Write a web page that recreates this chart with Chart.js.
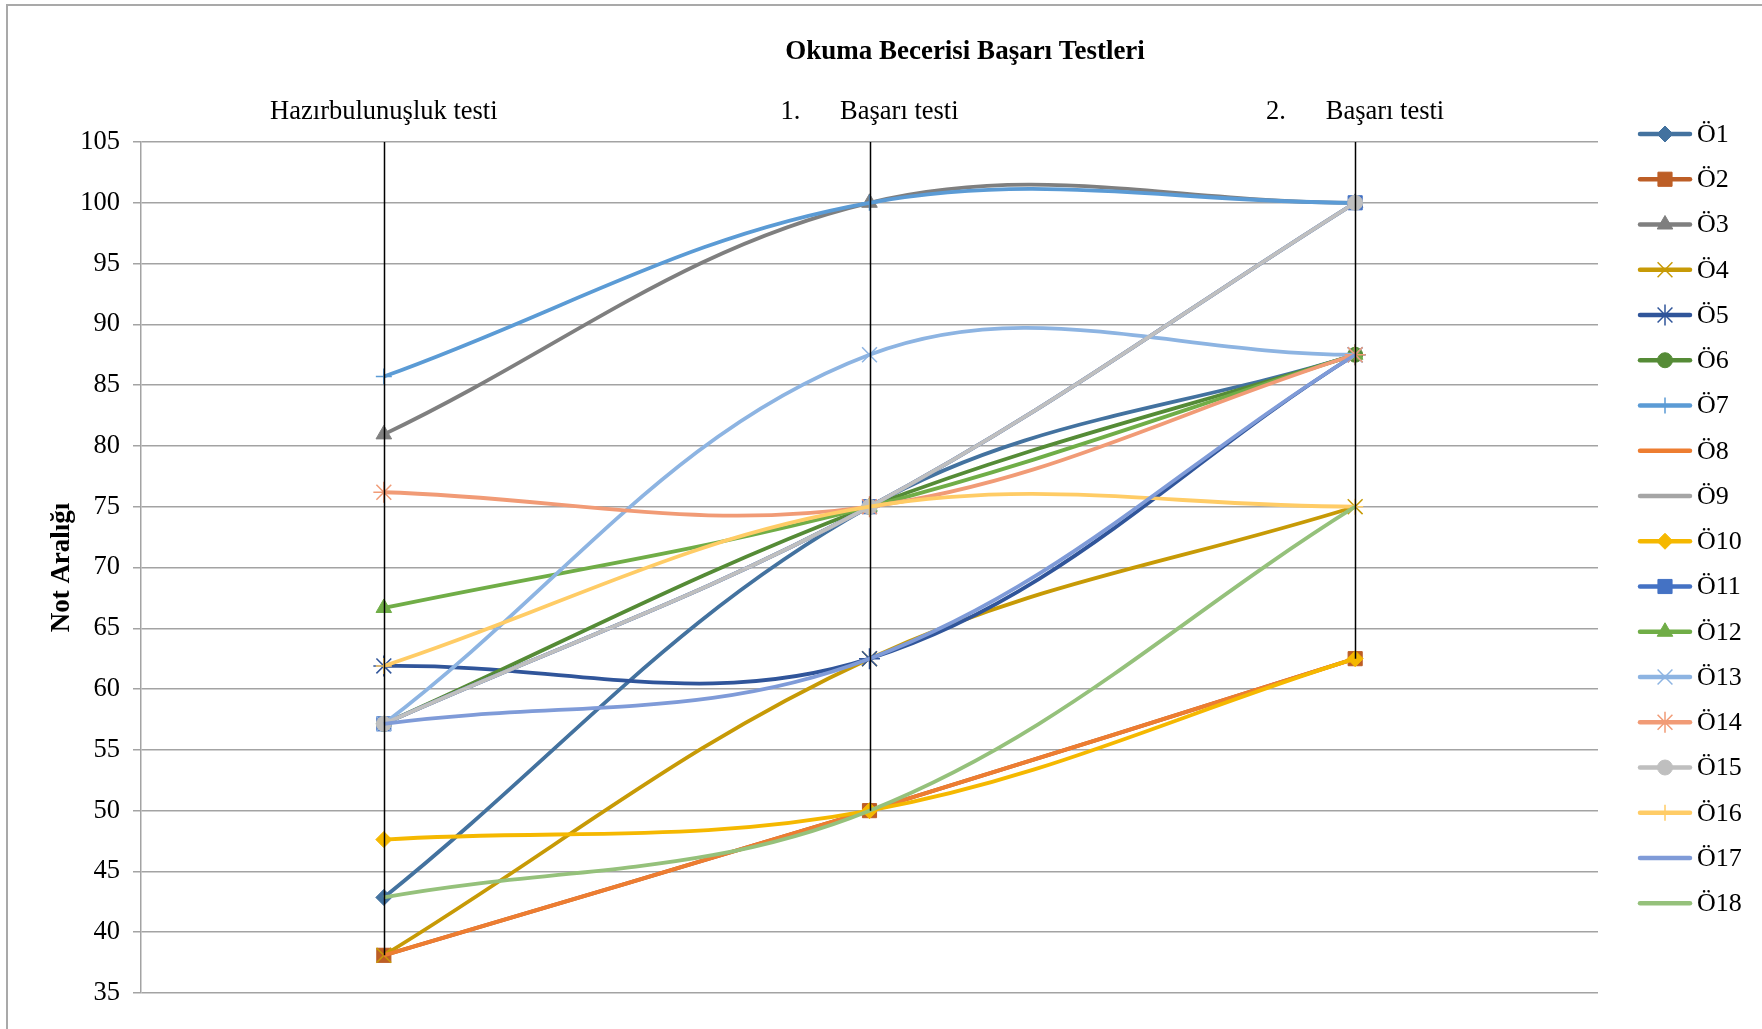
<!DOCTYPE html>
<html lang="tr">
<head>
<meta charset="utf-8">
<title>Okuma Becerisi Başarı Testleri</title>
<script src="https://cdn.jsdelivr.net/npm/chart.js@4.4.1/dist/chart.umd.min.js"></script>
<style>
    html, body { margin: 0; padding: 0; background: #fff; }
    #wrap { position: relative; width: 1762px; height: 1029px; overflow: hidden; }
    #frame {
        position: absolute; left: 6px; top: 4px; width: 1800px; height: 1100px;
        border-left: 2px solid #a9a9a9; border-top: 2px solid #a9a9a9;
    }
    #chart { position: absolute; left: 0; top: 0; }
</style>
</head>
<body>
<div id="wrap">
    <div id="frame"></div>
    <canvas id="chart" width="1762" height="1029"></canvas>
</div>
<script>
// Test names (drawn along the top axis)
const categories = [
    'Hazırbulunuşluk testi',
    '1.\u00A0\u00A0\u00A0\u00A0\u00A0\u00A0Başarı testi',
    '2.\u00A0\u00A0\u00A0\u00A0\u00A0\u00A0Başarı testi'
];

const students = ['Ö1', 'Ö2', 'Ö3', 'Ö4', 'Ö5', 'Ö6', 'Ö7', 'Ö8', 'Ö9',
                  'Ö10', 'Ö11', 'Ö12', 'Ö13', 'Ö14', 'Ö15', 'Ö16', 'Ö17', 'Ö18'];

// Scores per student: [readiness, test 1, test 2]
const o1  = [42.86, 75, 87.5];
const o2  = [38.1, 50, 62.5];
const o3  = [80.95, 100, 100];
const o4  = [38.1, 62.5, 75];
const o5  = [61.9, 62.5, 87.5];
const o6  = [57.14, 75, 87.5];
const o7  = [85.71, 100, 100];
const o8  = [38.1, 50, 62.5];
const o9  = [57.14, 75, 100];
const o10 = [47.62, 50, 62.5];
const o11 = [57.14, 75, 100];
const o12 = [66.67, 75, 87.5];
const o13 = [57.14, 87.5, 87.5];
const o14 = [76.19, 75, 87.5];
const o15 = [57.14, 75, 100];
const o16 = [61.9, 75, 75];
const o17 = [57.14, 62.5, 87.5];
const o18 = [42.86, 50, 75];
const scores = [o1, o2, o3, o4, o5, o6, o7, o8, o9, o10, o11, o12, o13, o14, o15, o16, o17, o18];

const Y_MIN = 35;
const Y_MAX = 105;
const Y_STEP = 5;

// Series colours and markers
const colors = ['#43729F', '#BD5E26', '#7F7F7F', '#C79A06', '#30559A', '#558B36',
                '#5B9BD5', '#ED7D31', '#A5A5A5', '#F5B800', '#4472C4', '#70AD47',
                '#8DB4E2', '#F19B76', '#BFBFBF', '#FFCC66', '#7F9BD8', '#95C17B'];
const markers = ['rectRot', 'rect', 'triangle', 'crossRot', 'star', 'circle', 'cross', null, null,
                 'rectRot', 'rect', 'triangle', 'crossRot', 'star', 'circle', 'cross', null, null];

const SERIF = '"Liberation Serif", "Times New Roman", serif';

function markerRadius(style) {
    switch (style) {
        case 'rect': return 10;
        case 'rectRot': return 8;
        case 'triangle': return 9;
        case 'circle': return 7.5;
        case 'crossRot': return 10.5;
        case 'star': return 10.5;
        case 'cross': return 8;
        default: return 0;
    }
}

function isStroked(style) {
    return style === 'cross' || style === 'crossRot' || style === 'star';
}

const datasets = students.map((name, i) => ({
    label: name,
    data: scores[i],
    borderColor: colors[i],
    borderWidth: 3.8,
    tension: 0.37,
    fill: false,
    pointStyle: markers[i] || 'circle',
    pointRadius: markerRadius(markers[i]),
    pointBackgroundColor: colors[i],
    pointBorderColor: colors[i],
    pointBorderWidth: isStroked(markers[i]) ? 1.5 : 1,
    order: students.length - i
}));

// Chart title
const titlePlugin = {
    id: 'topTitle',
    afterDraw(chart) {
        const ctx = chart.ctx;
        ctx.save();
        ctx.font = 'bold 27px ' + SERIF;
        ctx.fillStyle = '#000';
        ctx.textAlign = 'center';
        ctx.textBaseline = 'middle';
        ctx.fillText('Okuma Becerisi Başarı Testleri', 965, 52);
        ctx.restore();
    }
};

// Drop lines from the lowest score of each test up to the top axis
const dropLinePlugin = {
    id: 'dropLines',
    afterDatasetsDraw(chart) {
        const { ctx, scales: { x, y } } = chart;
        ctx.save();
        ctx.strokeStyle = '#000';
        ctx.lineWidth = 1.5;
        categories.forEach((c, i) => {
            const low = Math.min(...scores.map(s => s[i]));
            const px = Math.round(x.getPixelForValue(i)) + 0.5;
            ctx.beginPath();
            ctx.moveTo(px, y.getPixelForValue(low));
            ctx.lineTo(px, y.getPixelForValue(Y_MAX));
            ctx.stroke();
        });
        ctx.restore();
    }
};

// Legend on the right: short line with the series marker in the middle
const LEGEND_X = 1640;
const LEGEND_TOP = 134;
const LEGEND_STEP = 45.25;

const legendPlugin = {
    id: 'sideLegend',
    afterDraw(chart) {
        const ctx = chart.ctx;
        ctx.save();
        chart.data.datasets.forEach((ds, i) => {
            const y = LEGEND_TOP + i * LEGEND_STEP;
            ctx.strokeStyle = ds.borderColor;
            ctx.lineWidth = 4.5;
            ctx.lineCap = 'round';
            ctx.beginPath();
            ctx.moveTo(LEGEND_X, y);
            ctx.lineTo(LEGEND_X + 50, y);
            ctx.stroke();
            if (ds.pointRadius > 0) {
                ctx.fillStyle = ds.pointBackgroundColor;
                ctx.strokeStyle = ds.pointBorderColor;
                ctx.lineWidth = ds.pointBorderWidth;
                ctx.lineCap = 'butt';
                Chart.helpers.drawPoint(ctx, {
                    pointStyle: ds.pointStyle,
                    radius: ds.pointRadius,
                    borderWidth: ds.pointBorderWidth,
                    rotation: 0
                }, LEGEND_X + 25, y);
            }
            ctx.fillStyle = '#000';
            ctx.font = '26px ' + SERIF;
            ctx.textAlign = 'left';
            ctx.textBaseline = 'middle';
            ctx.fillText(ds.label, LEGEND_X + 57, y + 1);
        });
        ctx.restore();
    }
};

const ctx = document.getElementById('chart').getContext('2d');
new Chart(ctx, {
    type: 'line',
    data: { labels: categories, datasets: datasets },
    plugins: [dropLinePlugin, titlePlugin, legendPlugin],
    options: {
        responsive: false,
        animation: false,
        events: [],
        layout: { padding: { left: 42, right: 164, top: 0, bottom: 36 } },
        plugins: {
            legend: { display: false },
            title: { display: false },
            tooltip: { enabled: false }
        },
        scales: {
            x: {
                type: 'category',
                position: 'top',
                offset: true,
                grid: { display: false, drawTicks: false },
                border: { display: false },
                ticks: {
                    color: '#000',
                    font: { family: SERIF, size: 26.5 },
                    padding: 14,
                    maxRotation: 0,
                    autoSkip: false
                },
                afterFit(scale) { scale.height = 142; }
            },
            y: {
                min: Y_MIN,
                max: Y_MAX,
                grid: {
                    color: '#a3a3a3',
                    lineWidth: 1.5,
                    drawTicks: true,
                    tickLength: 8
                },
                border: { display: true, color: '#a3a3a3', width: 1.5 },
                ticks: {
                    stepSize: Y_STEP,
                    color: '#000',
                    font: { family: SERIF, size: 26.5 },
                    padding: 13
                },
                title: {
                    display: true,
                    text: 'Not Aralığı',
                    color: '#000',
                    font: { family: SERIF, size: 27, weight: 'bold' }
                },
                afterFit(scale) { scale.width = 99; }
            }
        }
    }
});
</script>
</body>
</html>
